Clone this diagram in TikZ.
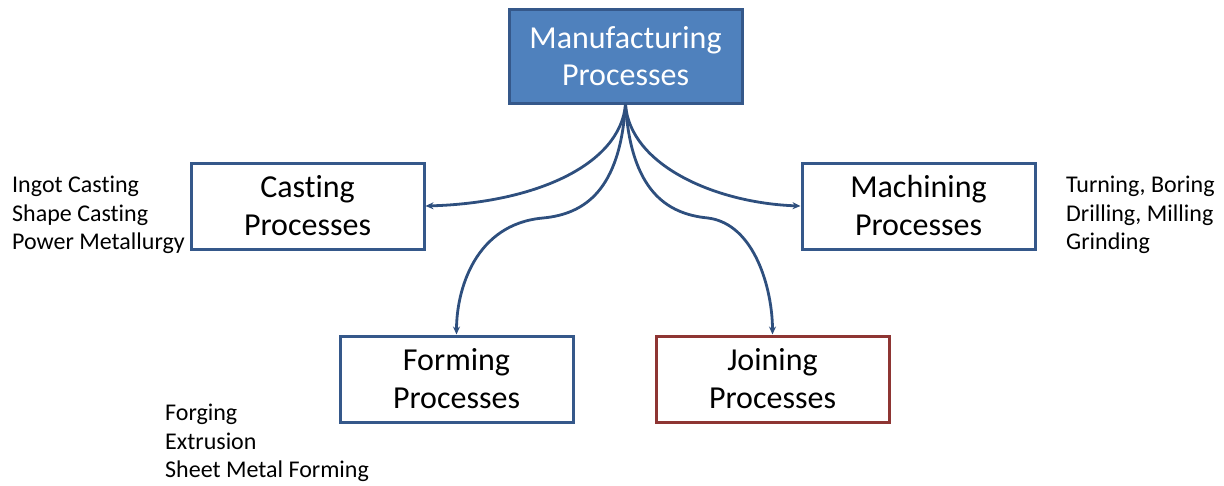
\documentclass[tikz,border=0pt]{standalone}
\usepackage{fontspec}
\setmainfont{Carlito}[Ligatures=NoCommon]
\usetikzlibrary{arrows.meta}
\definecolor{topfill}{HTML}{4F81BD}
\definecolor{blueline}{HTML}{35588A}
\definecolor{arrowcol}{HTML}{2E4F7E}
\definecolor{redline}{HTML}{8E3533}
\tikzset{
  procbox/.style={draw=blueline, line width=3pt, fill=white, minimum width=233pt, minimum height=86pt, align=center, font=\fontsize{32}{38}\selectfont, text=black, inner sep=0pt},
  topbox/.style={draw=blueline, line width=3pt, fill=topfill, minimum width=233pt, minimum height=94pt, align=center, font=\fontsize{32}{37}\selectfont, text=white, inner sep=0pt},
  listtext/.style={align=left, anchor=west, inner sep=0pt, font=\fontsize{24}{28.5}\selectfont},
  link/.style={draw=arrowcol, line width=2.8pt, -{Stealth[length=8pt,width=7pt]}},
  linkpart/.style={draw=arrowcol, line width=2.8pt}
}
\begin{document}
\begin{tikzpicture}[x=1pt,y=-1pt]
\useasboundingbox (0,0) rectangle (1224,485);
\node[topbox] (top) at (625.5,56) {Manufacturing\\Processes};
\node[procbox] (cast) at (307.5,206) {Casting\\Processes};
\node[procbox] (mach) at (918.5,206) {Machining\\Processes};
\node[procbox] (form) at (456.5,379) {Forming\\Processes};
\node[procbox, draw=redline] (join) at (772.5,379) {Joining\\Processes};
\node[listtext] (castlist) at (12,215) {Ingot Casting\\Shape Casting\\Power Metallurgy};
\node[listtext] (machlist) at (1066,215) {Turning, Boring\\Drilling, Milling\\Grinding};
\node[listtext] (formlist) at (165,443) {Forging\\Extrusion\\Sheet Metal Forming};
\coordinate (fmid) at (543,218);
\coordinate (jmid) at (708,218);
\draw[link] (top.south) .. controls (620,165) and (535,203) .. (cast.east);
\draw[link] (top.south) .. controls (630,165) and (715,203) .. (mach.west);
\draw[linkpart] (top.south) .. controls (620,190) and (585,214) .. (fmid);
\draw[link] (fmid) .. controls (475,224) and (456.5,290) .. (form.north);
\draw[linkpart] (top.south) .. controls (631,190) and (666,214) .. (jmid);
\draw[link] (jmid) .. controls (755,224) and (772.5,290) .. (join.north);
\end{tikzpicture}
\end{document}
